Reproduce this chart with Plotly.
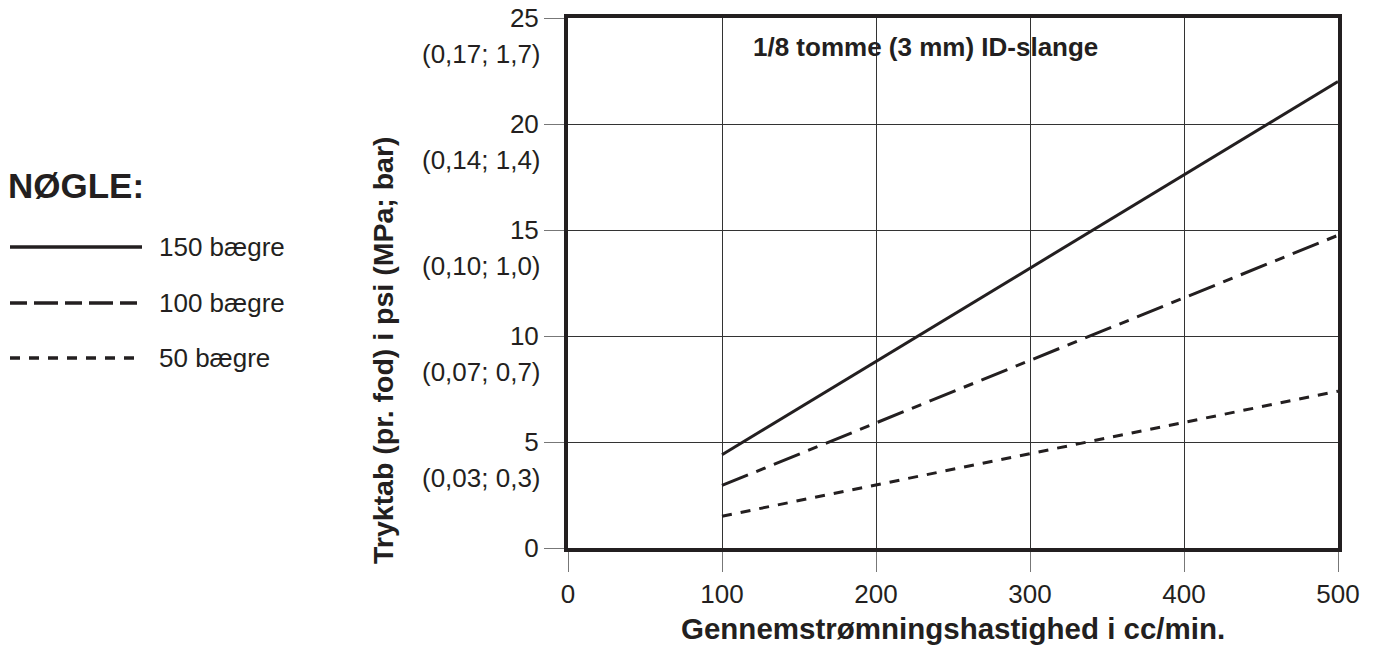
import plotly.graph_objects as go

# data
flow = [100, 500]
loss_150 = [4.4, 22.0]
loss_100 = [2.95, 14.75]
loss_50 = [1.5, 7.4]

x_ticks = [0, 100, 200, 300, 400, 500]
y_ticks = [0, 5, 10, 15, 20, 25]
y_sub = ["", "(0,03; 0,3)", "(0,07; 0,7)", "(0,10; 1,0)", "(0,14; 1,4)", "(0,17; 1,7)"]

legend_names = ["150 bægre", "100 bægre", "50 bægre"]

INK = "#231f20"
FONT = "Liberation Sans, Arial, Helvetica, sans-serif"

# plot area in screen pixels (body margin is removed below)
L, R, T, B = 568, 1338, 18, 548
W, H = 1375, 646


def px_x(p):
    return (p - L) / (R - L)


def px_y(p):
    return (B - p) / (B - T)


dash_100 = "28px,9px,10px,9px"
dash_50 = "10px,9px"

fig = go.Figure()
fig.add_trace(go.Scatter(x=flow, y=loss_150, mode="lines", name=legend_names[0],
                         line=dict(color=INK, width=3)))
fig.add_trace(go.Scatter(x=flow, y=loss_100, mode="lines", name=legend_names[1],
                         line=dict(color=INK, width=3, dash=dash_100)))
fig.add_trace(go.Scatter(x=flow, y=loss_50, mode="lines", name=legend_names[2],
                         line=dict(color=INK, width=3, dash=dash_50)))

# second line of the y tick labels
for v, s in zip(y_ticks, y_sub):
    if s:
        fig.add_annotation(x=0, xref="paper", y=v, yref="y", text=s, showarrow=False,
                           xanchor="right", yanchor="middle", xshift=-25, yshift=-36,
                           font=dict(size=26, color=INK, family=FONT))

fig.add_annotation(x=px_x(925), xref="paper", y=px_y(47), yref="paper",
                   xanchor="center", yanchor="middle",
                   text="<b>1/8 tomme (3 mm) ID-slange</b>", showarrow=False,
                   font=dict(size=26, color=INK, family=FONT))

fig.add_annotation(x=px_x(383), xref="paper", y=px_y(350), yref="paper", textangle=-90,
                   xanchor="center", yanchor="middle",
                   text="<b>Tryktab (pr. fod) i psi (MPa; bar)</b>", showarrow=False,
                   font=dict(size=28.5, color=INK, family=FONT))

fig.add_annotation(x=px_x(953), xref="paper", y=px_y(628), yref="paper",
                   xanchor="center", yanchor="middle",
                   text="<b>Gennemstrømningshastighed i cc/min.</b>", showarrow=False,
                   font=dict(size=29.5, color=INK, family=FONT))

# hand-drawn key on the left
fig.add_annotation(x=px_x(6), xref="paper", y=px_y(185), yref="paper",
                   xanchor="left", yanchor="middle",
                   text="<b>NØGLE:</b>", showarrow=False,
                   font=dict(size=35, color=INK, family=FONT))
key_y = [247, 303, 358]
key_dash = ["solid", "17px,7px,24px,7px", dash_50]
for name, ky, d in zip(legend_names, key_y, key_dash):
    fig.add_shape(type="line", xref="paper", yref="paper",
                  x0=px_x(10), x1=px_x(142), y0=px_y(ky), y1=px_y(ky),
                  line=dict(color=INK, width=3.5, dash=d))
    fig.add_annotation(x=px_x(157), xref="paper", y=px_y(ky), yref="paper",
                       xanchor="left", yanchor="middle", text=name, showarrow=False,
                       font=dict(size=26, color=INK, family=FONT))

axis_common = dict(showline=True, linewidth=4, linecolor=INK, mirror=True,
                   ticks="outside", ticklen=20, tickwidth=1, tickcolor="#777",
                   showgrid=True, gridcolor="#333", gridwidth=1, zeroline=False,
                   automargin=False, ticklabeloverflow="allow",
                   tickfont=dict(size=26, color=INK, family=FONT))

fig.update_xaxes(range=[0, 500], tickvals=x_ticks, **axis_common)
fig.update_yaxes(range=[0, 25], tickvals=y_ticks, **axis_common)

fig.update_layout(width=W, height=H, margin=dict(l=L, r=W - R, t=T, b=H - B),
                  plot_bgcolor="white", paper_bgcolor="white", showlegend=False,
                  font=dict(family=FONT, color=INK))

fig.write_html("out.html", config={"displayModeBar": False},
               post_script="document.body.style.margin = '0px';")
